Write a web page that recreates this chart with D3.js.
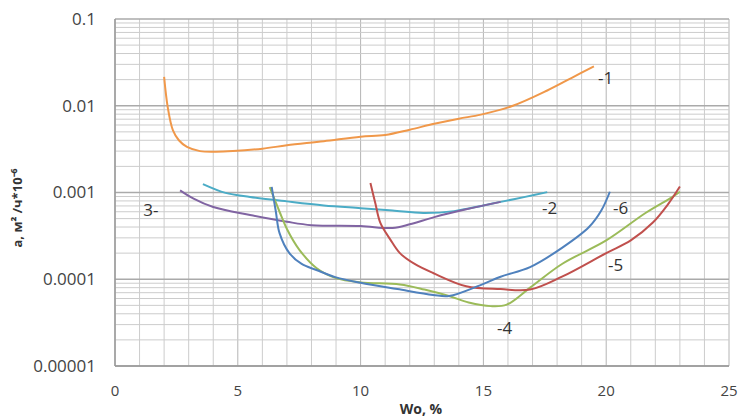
<!DOCTYPE html>
<html lang="ru">
<head>
<meta charset="UTF-8">
<title>a(Wo)</title>
<script src="https://cdnjs.cloudflare.com/ajax/libs/d3/7.8.5/d3.min.js"></script>
<style>
  body { margin: 0; background: #fff; }
  text { font-family: "Open Sans", sans-serif; }
</style>
</head>
<body>
<svg width="739" height="419"></svg>
<script>
    // tick labels
    const xTicks = [0, 5, 10, 15, 20, 25];
    const yTicks = [0.1, 0.01, 0.001, 0.0001, 0.00001];
    const yTickLabels = ["0.1", "0.01", "0.001", "0.0001", "0.00001"];

    // curves
    const x1 = [2.0, 2.15, 2.36, 2.6, 2.93, 3.46, 4.1, 4.8, 6, 7, 8.5, 10, 11, 12, 13, 14, 14.9, 16.2, 17.6, 18.6, 19.5];
    const y1 = [0.0215, 0.0095, 0.0052, 0.0040, 0.00335, 0.0030, 0.00295, 0.0030, 0.0032, 0.0035, 0.0039, 0.0044, 0.0046, 0.0053, 0.0062, 0.0071, 0.0079, 0.0100, 0.0150, 0.021, 0.0285];

    const x2 = [3.58, 4.5, 5.5, 7, 8.5, 10, 11.3, 12.55, 13.8, 15, 15.7, 16.7, 17.6];
    const y2 = [0.00125, 0.00099, 0.00089, 0.00079, 0.00071, 0.00066, 0.00062, 0.00058, 0.00061, 0.00071, 0.00078, 0.00089, 0.00101];

    const x3 = [2.65, 3.2, 4, 5.5, 7, 8, 10, 11.3, 12, 13, 14.3, 15.7];
    const y3 = [0.00106, 0.00085, 0.00068, 0.00055, 0.00046, 0.00042, 0.00041, 0.00039, 0.00043, 0.00052, 0.00064, 0.00078];

    const x4 = [6.3, 6.7, 7.0, 7.5, 8.2, 9, 10, 11.6, 12.6, 13.6, 14.4, 15.3, 15.95, 16.9, 18.2, 20, 21.6, 22.7, 23.0];
    const y4 = [0.00115, 0.0006, 0.00038, 0.00022, 0.000135, 0.000103, 0.000092, 0.000087, 0.000076, 0.000064, 0.000054, 0.000049, 0.000051, 0.00008, 0.00015, 0.00028, 0.00058, 0.00089, 0.00102];

    const x5 = [10.4, 10.6, 10.8, 11.2, 11.6, 12.2, 12.95, 14.3, 15.7, 16.9, 18.2, 20, 21, 21.9, 22.5, 23.0];
    const y5 = [0.00129, 0.00075, 0.00045, 0.00029, 0.0002, 0.00015, 0.000118, 0.000083, 0.000077, 0.000076, 0.000107, 0.0002, 0.00028, 0.00045, 0.00072, 0.00117];

    const x6 = [6.38, 6.55, 6.7, 7.1, 7.6, 8.2, 9, 10, 11.5, 12.95, 13.6, 14.86, 15.7, 16.9, 18.2, 19.3, 19.8, 20.15];
    const y6 = [0.00116, 0.0006, 0.00034, 0.0002, 0.00015, 0.000128, 0.000105, 0.000091, 0.000077, 0.000066, 0.000064, 0.000085, 0.000107, 0.000138, 0.00023, 0.0004, 0.00062, 0.00102];

    const series = [
        {name: "-1", x: x1, y: y1, color: "#f0984a", lx: 19.67, ly: 0.0209},
        {name: "-2", x: x2, y: y2, color: "#4bacc6", lx: 17.39, ly: 0.000663},
        {name: "3-", x: x3, y: y3, color: "#8064a2", lx: 1.15, ly: 0.00063},
        {name: "-4", x: x4, y: y4, color: "#9bbb59", lx: 15.55, ly: 0.0000274},
        {name: "-5", x: x5, y: y5, color: "#c0504d", lx: 20.07, ly: 0.000146},
        {name: "-6", x: x6, y: y6, color: "#4f81bd", lx: 20.28, ly: 0.000663}
    ];

    const svg = d3.select('svg');
    const plotLeft = 115, plotRight = 729, plotTop = 19, plotBottom = 366;

    const x = d3.scaleLinear().domain([0, 25]).range([plotLeft, plotRight]);
    const y = d3.scaleLog().domain([0.00001, 0.1]).range([plotBottom, plotTop]);

    // grid
    const grid = svg.append('g');
    d3.range(0, 26).forEach(v => {
        grid.append('line')
            .attr('x1', x(v)).attr('x2', x(v))
            .attr('y1', plotTop).attr('y2', plotBottom)
            .attr('stroke', v % 5 === 0 ? '#b4b4b4' : '#cccccc')
            .attr('stroke-width', 1);
    });
    const minor = [];
    for (let e = -5; e < -1; e++) {
        for (let k = 1; k <= 9; k++) minor.push(k * Math.pow(10, e));
    }
    minor.push(0.1);
    minor.forEach(v => {
        const major = yTicks.some(t => Math.abs(t - v) / t < 1e-6);
        grid.append('line')
            .attr('x1', plotLeft).attr('x2', plotRight)
            .attr('y1', y(v)).attr('y2', y(v))
            .attr('stroke', major ? '#aaaaaa' : '#cccccc')
            .attr('stroke-width', major ? 1.5 : 1);
    });
    // axes lines
    svg.append('line')
        .attr('x1', plotLeft).attr('x2', plotLeft).attr('y1', plotTop).attr('y2', plotBottom)
        .attr('stroke', '#999').attr('stroke-width', 1.5);
    svg.append('line')
        .attr('x1', plotLeft).attr('x2', plotRight).attr('y1', plotBottom).attr('y2', plotBottom)
        .attr('stroke', '#999').attr('stroke-width', 1.5);

    // tick labels
    svg.append('g').selectAll('text')
        .data(xTicks)
        .join('text')
        .attr('x', d => x(d))
        .attr('y', plotBottom + 30)
        .attr('text-anchor', 'middle')
        .attr('font-size', '15px')
        .attr('fill', '#444')
        .text(d => d);

    svg.append('g').selectAll('text')
        .data(yTicks)
        .join('text')
        .attr('x', 96)
        .attr('y', d => y(d))
        .attr('dy', '0.35em')
        .attr('text-anchor', 'end')
        .attr('font-size', '17px')
        .attr('fill', '#444')
        .text((d, i) => yTickLabels[i]);

    // axis titles
    svg.append('text')
        .attr('x', 421)
        .attr('y', 414)
        .attr('text-anchor', 'middle')
        .attr('font-size', '14px')
        .attr('font-weight', 'bold')
        .attr('fill', '#333')
        .text('Wo, %');

    svg.append('text')
        .attr('transform', 'translate(22,208) rotate(-90)')
        .attr('text-anchor', 'middle')
        .attr('font-size', '13px')
        .attr('font-weight', 'bold')
        .attr('fill', '#333')
        .text('a, м² /ч*10⁻⁶');

    // curves
    const line = d3.line()
        .x(d => x(d[0]))
        .y(d => y(d[1]))
        .curve(d3.curveCatmullRom.alpha(0.5));

    series.forEach(s => {
        const pts = s.x.map((v, i) => [v, s.y[i]]);
        svg.append('path')
            .datum(pts)
            .attr('d', line)
            .attr('fill', 'none')
            .attr('stroke', s.color)
            .attr('stroke-width', 2);
        svg.append('text')
            .attr('x', x(s.lx))
            .attr('y', y(s.ly))
            .attr('dy', '0.35em')
            .attr('font-size', '17px')
            .attr('fill', '#333')
            .text(s.name);
    });
</script>
</body>
</html>
